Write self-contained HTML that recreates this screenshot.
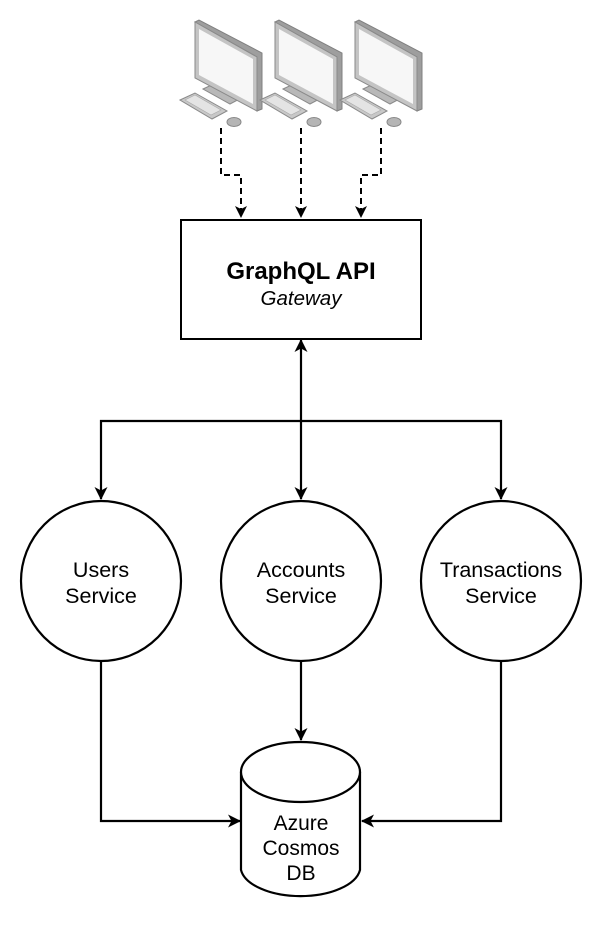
<!DOCTYPE html>
<html><head><style>html,body{margin:0;padding:0;background:#fff}</style></head><body>
<svg width="602" height="922" viewBox="0 0 602 922" xmlns="http://www.w3.org/2000/svg" font-family="Liberation Sans, Arial, sans-serif">
<defs>
<marker id="a" markerWidth="12" markerHeight="12" refX="11" refY="6" orient="auto" markerUnits="userSpaceOnUse"><path d="M0,0 L12,6 L0,12 L3,6 Z" fill="#000"/></marker>
<marker id="b" markerWidth="13" markerHeight="13" refX="12" refY="6.5" orient="auto-start-reverse" markerUnits="userSpaceOnUse"><path d="M0,0 L13,6.5 L0,13 L3.5,6.5 Z" fill="#000"/></marker>
<g id="pc">
<path d="M28,74 L45,66 L72,80 L55,89 Z" fill="#b8b8b8" stroke="#8a8a8a"/>
<path d="M35,70 L48,64 L60,70 L47,77 Z" fill="#9a9a9a"/>
<path d="M20,7 L24,5 L87,38 L87,94 L82,96 L82,42 Z" fill="#9e9e9e" stroke="#808080"/>
<path d="M20,7 L82,42 L82,96 L20,63 Z" fill="#c4c4c4" stroke="#8a8a8a"/>
<path d="M24,14 L78,44 L78,89 L24,60 Z" fill="#f7f7f7"/>
<path d="M5,85 L20,78 L52,96 L37,104 Z" fill="#c8c8c8" stroke="#8a8a8a"/>
<path d="M10,85 L20,80 L46,95 L36,100 Z" fill="#e4e4e4" stroke="#aaa" stroke-width="0.6"/>
<ellipse cx="59" cy="107" rx="7" ry="4.5" fill="#b5b5b5" stroke="#888"/>
</g>
</defs>
<use href="#pc" x="175" y="15"/>
<use href="#pc" x="255" y="15"/>
<use href="#pc" x="335" y="15"/>
<g fill="none" stroke="#000" stroke-width="2" stroke-dasharray="6,4">
<path d="M221,128 V175 H241 V217" marker-end="url(#a)"/>
<path d="M301,128 V217" marker-end="url(#a)"/>
<path d="M381,128 V175 H361 V217" marker-end="url(#a)"/>
</g>
<rect x="181" y="220" width="240" height="119" fill="#fff" stroke="#000" stroke-width="2"/>
<text x="301" y="279" text-anchor="middle" font-size="24" font-weight="bold">GraphQL API</text>
<text x="301" y="305" text-anchor="middle" font-size="20.5" font-style="italic">Gateway</text>
<g fill="none" stroke="#000" stroke-width="2.2">
<path d="M301,340 V499" marker-start="url(#b)" marker-end="url(#b)"/>
<path d="M101,499 V421 H501 V499" marker-start="url(#b)" marker-end="url(#b)"/>
<circle cx="101" cy="581" r="80" fill="#fff"/>
<circle cx="301" cy="581" r="80" fill="#fff"/>
<circle cx="501" cy="581" r="80" fill="#fff"/>
<path d="M301,661 V740" marker-end="url(#b)"/>
<path d="M101,661 V821 H240" marker-end="url(#b)"/>
<path d="M501,661 V821 H362" marker-end="url(#b)"/>
<path d="M241,772 V870 A60,30 0 0 0 360,870 V772" fill="#fff"/>
<ellipse cx="300.5" cy="772" rx="59.5" ry="30" fill="#fff"/>
</g>
<g font-size="21.5" text-anchor="middle">
<text x="101" y="577">Users</text><text x="101" y="603">Service</text>
<text x="301" y="577">Accounts</text><text x="301" y="603">Service</text>
<text x="501" y="577">Transactions</text><text x="501" y="603">Service</text>
</g>
<g font-size="21" text-anchor="middle">
<text x="301" y="830">Azure</text><text x="301" y="855">Cosmos</text><text x="301" y="880">DB</text>
</g>
</svg>
</body></html>
